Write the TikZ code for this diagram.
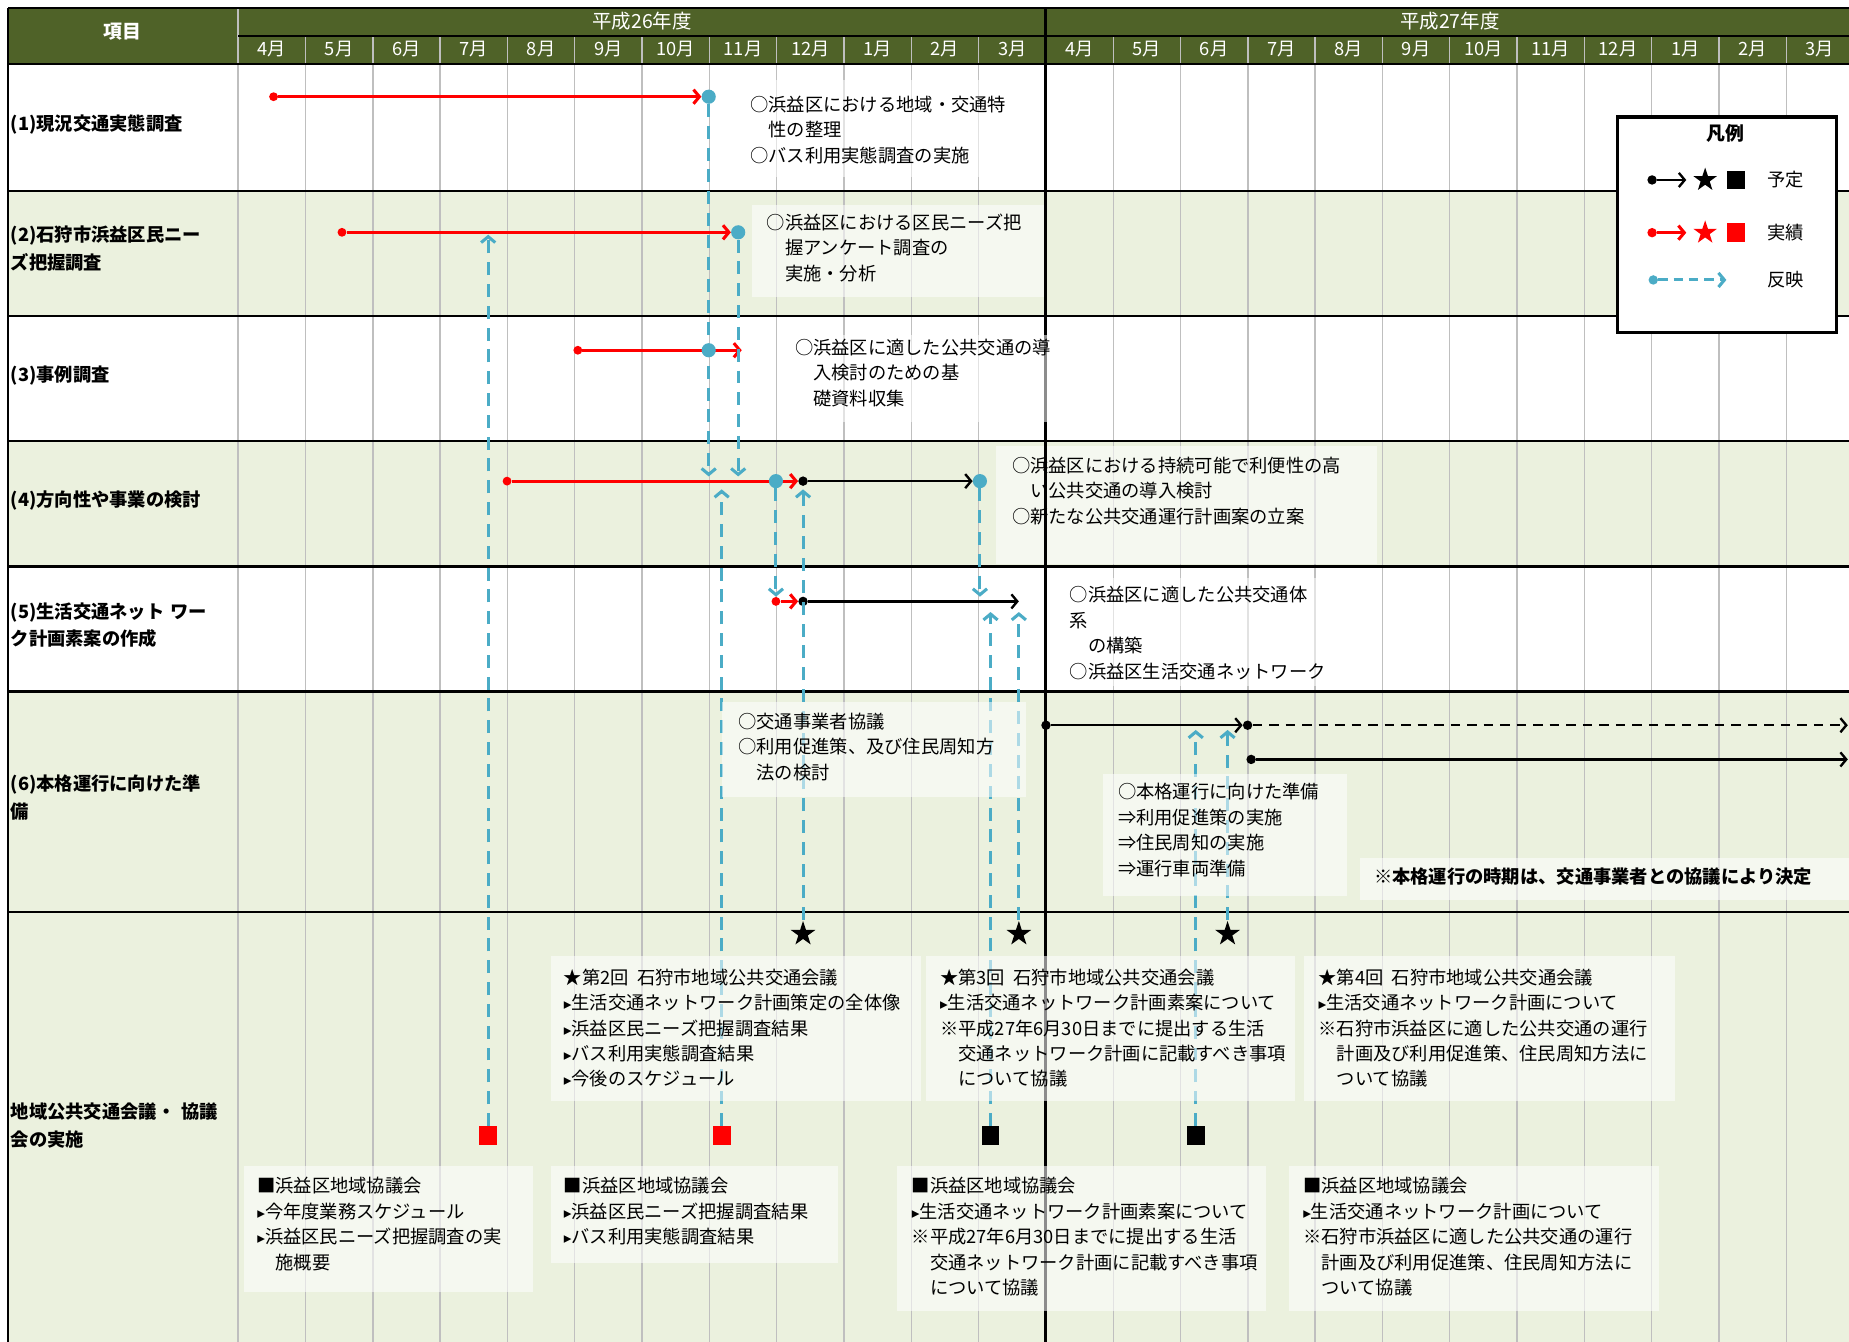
\documentclass[tikz,border=0pt]{standalone}
\usepackage{fontspec}
\newfontfamily\jp{Noto Sans CJK JP}
\newfontfamily\dv{DejaVu Sans}
\usetikzlibrary{arrows.meta,shapes.geometric}
\newcommand\tri{{\dv\fontsize{13pt}{13pt}\selectfont ▸}}
\newcommand\gapsp{\hspace{7pt}}
\definecolor{hdr}{HTML}{4F6228}
\definecolor{rowg}{HTML}{EBF1DE}
\definecolor{gridg}{HTML}{BFBFBF}
\definecolor{refl}{HTML}{4BACC6}
\begin{document}
\begin{tikzpicture}[x=1pt,y=-1pt,
  txt/.style={anchor=base west,inner sep=0pt,align=left,text width=420pt,font=\jp\fontsize{15.5pt}{21.6pt}\selectfont},
  lbl/.style={anchor=base west,inner sep=0pt,align=left,text width=200pt,font=\jp\bfseries\fontsize{15.5pt}{24pt}\selectfont},
  hdrtxt/.style={text=white,inner sep=0pt,font=\jp\fontsize{15.5pt}{18pt}\selectfont},
  boxbg/.style={fill=white,fill opacity=0.55},
  gridln/.style={draw=gridg,line width=1.2pt},
  rowln/.style={draw=black,line width=2pt},
  reddot/.style={circle,fill=red,inner sep=0pt,minimum size=7.5pt},
  blkdot/.style={circle,fill=black,inner sep=0pt,minimum size=8pt},
  bludot/.style={circle,fill=refl,inner sep=0pt,minimum size=12pt},
  redln/.style={draw=red,line width=2.6pt,-{Straight Barb[length=5pt,width=12pt]}},
  blkln/.style={draw=black,line width=2pt,-{Straight Barb[length=5pt,width=12pt]}},
  refln/.style={draw=refl,line width=2.6pt,dash pattern=on 11pt off 7.5pt,-{Straight Barb[length=5pt,width=12pt]}},
  blkstar/.style={star,star points=5,star point ratio=2.6,fill=black,inner sep=0pt,minimum size=22pt},
  redstar/.style={blkstar,fill=red},
  blksq/.style={rectangle,fill=black,inner sep=0pt,minimum width=15pt,minimum height=16pt},
  redsq/.style={blksq,fill=red}]
\useasboundingbox (0,0) rectangle (1568,1138);
% row backgrounds
\fill[white] (7,54.5) rectangle (1568,1138);
\fill[rowg] (7,161.7) rectangle (1568,268);
\fill[rowg] (7,374) rectangle (1568,480.5);
\fill[rowg] (7,586.5) rectangle (1568,1138);
% header
\fill[hdr] (7,7) rectangle (1568,54.5);
\draw[gridln] (202,7) -- (202,1138);
\foreach \i in {1,...,11,13,14,...,23}
  \draw[gridln] ({202+57.08*\i},30.5) -- ({202+57.08*\i},1138);
\draw[rowln] (7,7) -- (1568,7);
\draw[rowln] (202,30.5) -- (1568,30.5);
\foreach \yy in {54.5,161.7,268,374,480.5,586.5,773.6}
  \draw[rowln] (7,\yy) -- (1568,\yy);
\draw[rowln] (7,7) -- (7,1138);
\node[hdrtxt,font=\jp\bfseries\fontsize{16pt}{18pt}\selectfont] (hd0) at (104,27) {項目};
\node[hdrtxt,font=\jp\fontsize{16.5pt}{18pt}\selectfont] (hy1) at (544.5,17.5) {平成26年度};
\node[hdrtxt,font=\jp\fontsize{16.5pt}{18pt}\selectfont] (hy2) at (1229.5,17.5) {平成27年度};
\foreach \i in {0,...,23}{
  \pgfmathtruncatemacro\mo{mod(\i+3,12)+1}
  \node[hdrtxt] (mo\i) at ({202+57.08*\i+28.54},41.5) {\mo 月};
}
% boxes under divider
\fill[boxbg] (630,68) rectangle (872,150);
\fill[boxbg] (638,174) rectangle (886,252);
\fill[boxbg] (845,378) rectangle (1168,478);
\fill[boxbg] (897,490) rectangle (1130,582);
\draw[draw=black,line width=2.5pt] (887,7) -- (887,1138);
% ---------- bars ----------
% (1)
\node[reddot] (r1a) at (232,82) {};
\node[bludot] (r1b) at (601,82) {};
\draw[redln] (r1a) -- (r1b.west);
% (2)
\node[reddot] (r2a) at (290,197) {};
\node[bludot] (r2b) at (626,197) {};
\draw[redln] (r2a) -- (r2b.west);
% (3)
\node[reddot] (r3a) at (490,297) {};
\coordinate (r3e) at (629,297);
\draw[redln] (r3a) -- (r3e);
\node[bludot] (r3b) at (601,297) {};
% (4)
\node[reddot] (r4a) at (430,408) {};
\node[blkdot] (k4a) at (681,408) {};
\draw[redln] (r4a) -- (k4a.west);
\node[bludot] (r4b) at (658,408) {};
\node[bludot] (k4b) at (831,408) {};
\draw[blkln] (k4a) -- (k4b.west);
% (5)
\node[reddot] (r5a) at (658,510) {};
\node[blkdot] (k5a) at (681,510) {};
\draw[redln] (r5a) -- (k5a.west);
\coordinate (k5e) at (864,510);
\draw[blkln] (k5a) -- (k5e);
% (6)
\node[blkdot] (k6a) at (887,615) {};
\node[blkdot] (k6b) at (1058,615) {};
\draw[blkln] (k6a) -- (k6b.west);
\coordinate (k6c) at (1567,615);
\draw[blkln,dash pattern=on 8pt off 6pt] (k6b) -- (k6c);
\node[blkdot] (k6d) at (1061,644) {};
\coordinate (k6e) at (1567,644);
\draw[blkln] (k6d) -- (k6e);
% meetings
\node[redsq] (s1) at (414,963) {};
\node[redsq] (s2) at (612,963) {};
\node[blksq] (s3) at (840,963) {};
\node[blksq] (s4) at (1014,963) {};
\node[blkstar] (t1) at (681,792) {};
\node[blkstar] (t2) at (864,792) {};
\node[blkstar] (t3) at (1041,792) {};
% reflection connectors
\coordinate (d1) at (601,404);
\coordinate (d2) at (626,404);
\coordinate (d3) at (658,506);
\coordinate (d4) at (831,506);
\draw[refln] (r1b) -- (d1);
\draw[refln] (r2b) -- (d2);
\draw[refln] (r4b) -- (d3);
\draw[refln] (k4b) -- (d4);
\coordinate (u1) at (414,199);
\coordinate (u2) at (612,415);
\coordinate (u3) at (681,415);
\coordinate (u4) at (840,519);
\coordinate (u5) at (864,519);
\coordinate (u6) at (1014,619);
\coordinate (u7) at (1041,619);
\draw[refln] (s1) -- (u1);
\draw[refln] (s2) -- (u2);
\draw[refln] (t1) -- (u3);
\draw[refln] (s3) -- (u4);
\draw[refln] (t2) -- (u5);
\draw[refln] (s4) -- (u6);
\draw[refln] (t3) -- (u7);
% boxes over lines
\fill[boxbg] (662,284) rectangle (897,358);
\fill[boxbg] (612,595) rectangle (870,676);
\fill[boxbg] (935,656) rectangle (1142,760);
\fill[boxbg] (1153,728) rectangle (1568,763);
\fill[boxbg] (467,811) rectangle (781,934);
\fill[boxbg] (785,811) rectangle (1098,934);
\fill[boxbg] (1106,811) rectangle (1420,934);
\fill[boxbg] (207,989) rectangle (452,1096);
\fill[boxbg] (467,989) rectangle (711,1071);
\fill[boxbg] (761,989) rectangle (1074,1112);
\fill[boxbg] (1093,989) rectangle (1407,1112);
% row labels
\node[lbl] (L1) at (9,110.5) {(1)現況交通実態調査};
\node[lbl] (L2) at (9,204.5) {(2)石狩市浜益区民ニー\\ズ把握調査};
\node[lbl] (L3) at (9,323.5) {(3)事例調査};
\node[lbl] (L4) at (9,429.5) {(4)方向性や事業の検討};
\node[lbl,font=\jp\bfseries\fontsize{15.5pt}{23pt}\selectfont] (L5) at (9,524.5) {(5)生活交通ネット ワー\\ク計画素案の作成};
\node[lbl] (L6) at (9,670.5) {(6)本格運行に向けた準\\備};
\node[lbl] (L7) at (9,948.5) {地域公共交通会議・ 協議\\会の実施};
% texts
\node[txt] (tA) at (636,94.5) {○浜益区における地域・交通特\\　性の整理\\○バス利用実態調査の実施};
\node[txt] (tB) at (650,194.5) {○浜益区における区民ニーズ把\\　握アンケート調査の\\　実施・分析};
\node[txt] (tC) at (674,300.5) {○浜益区に適した公共交通の導\\　入検討のための基\\　礎資料収集};
\node[txt] (tD) at (858,400.5) {○浜益区における持続可能で利便性の高\\　い公共交通の導入検討\\○新たな公共交通運行計画案の立案};
\node[txt] (tE) at (907,510.5) {○浜益区に適した公共交通体\\系\\　の構築\\○浜益区生活交通ネットワーク};
\node[txt] (tF) at (626,617.5) {○交通事業者協議\\○利用促進策、及び住民周知方\\　法の検討};
\node[txt] (tG) at (948,677.5) {○本格運行に向けた準備\\⇒利用促進策の実施\\⇒住民周知の実施\\⇒運行車両準備};
\node[txt,font=\jp\bfseries\fontsize{15.5pt}{21.6pt}\selectfont] (tH) at (1165,749.5) {※本格運行の時期は、交通事業者との協議により決定};
\node[txt] (tI) at (478,834.5) {★第2回\gapsp 石狩市地域公共交通会議\\\tri 生活交通ネットワーク計画策定の全体像\\\tri 浜益区民ニーズ把握調査結果\\\tri バス利用実態調査結果\\\tri 今後のスケジュール};
\node[txt] (tJ) at (797,834.5) {★第3回\gapsp 石狩市地域公共交通会議\\\tri 生活交通ネットワーク計画素案について\\※平成27年6月30日までに提出する生活\\　交通ネットワーク計画に記載すべき事項\\　について協議};
\node[txt] (tK) at (1118,834.5) {★第4回\gapsp 石狩市地域公共交通会議\\\tri 生活交通ネットワーク計画について\\※石狩市浜益区に適した公共交通の運行\\　計画及び利用促進策、住民周知方法に\\　ついて協議};
\node[txt] (tL) at (218,1011.5) {■浜益区地域協議会\\\tri 今年度業務スケジュール\\\tri 浜益区民ニーズ把握調査の実\\　施概要};
\node[txt] (tM) at (478,1011.5) {■浜益区地域協議会\\\tri 浜益区民ニーズ把握調査結果\\\tri バス利用実態調査結果};
\node[txt] (tN) at (773,1011.5) {■浜益区地域協議会\\\tri 生活交通ネットワーク計画素案について\\※平成27年6月30日までに提出する生活\\　交通ネットワーク計画に記載すべき事項\\　について協議};
\node[txt] (tO) at (1105,1011.5) {■浜益区地域協議会\\\tri 生活交通ネットワーク計画について\\※石狩市浜益区に適した公共交通の運行\\　計画及び利用促進策、住民周知方法に\\　ついて協議};
% legend
\node[draw=black,line width=3pt,fill=white,inner sep=0pt,minimum width=186pt,minimum height=183pt,anchor=north west] (leg) at (1370,97.5) {};
\node[inner sep=0pt,font=\jp\bfseries\fontsize{16pt}{18pt}\selectfont] (legt) at (1463,113) {凡例};
\node[blkdot] (lk1) at (1401,152.6) {};
\coordinate (lk2) at (1430,152.6);
\draw[blkln] (lk1) -- (lk2);
\node[blkstar,minimum size=21pt] (lk3) at (1446,152.6) {};
\node[blksq] (lk4) at (1472,152.6) {};
\node[inner sep=0pt,font=\jp\fontsize{15.5pt}{18pt}\selectfont] (lk5) at (1514,152.6) {予定};
\node[reddot,minimum size=8pt] (lr1) at (1401,197.3) {};
\coordinate (lr2) at (1430,197.3);
\draw[redln] (lr1) -- (lr2);
\node[redstar,minimum size=21pt] (lr3) at (1446,197.3) {};
\node[redsq] (lr4) at (1472,197.3) {};
\node[inner sep=0pt,font=\jp\fontsize{15.5pt}{18pt}\selectfont] (lr5) at (1514,197.3) {実績};
\node[bludot,minimum size=8pt] (lb1) at (1402,237.4) {};
\coordinate (lb2) at (1464,237.4);
\draw[refln,dash pattern=on 8pt off 5pt] (lb1) -- (lb2);
\node[inner sep=0pt,font=\jp\fontsize{15.5pt}{18pt}\selectfont] (lb5) at (1514,237.4) {反映};
\end{tikzpicture}
\end{document}
